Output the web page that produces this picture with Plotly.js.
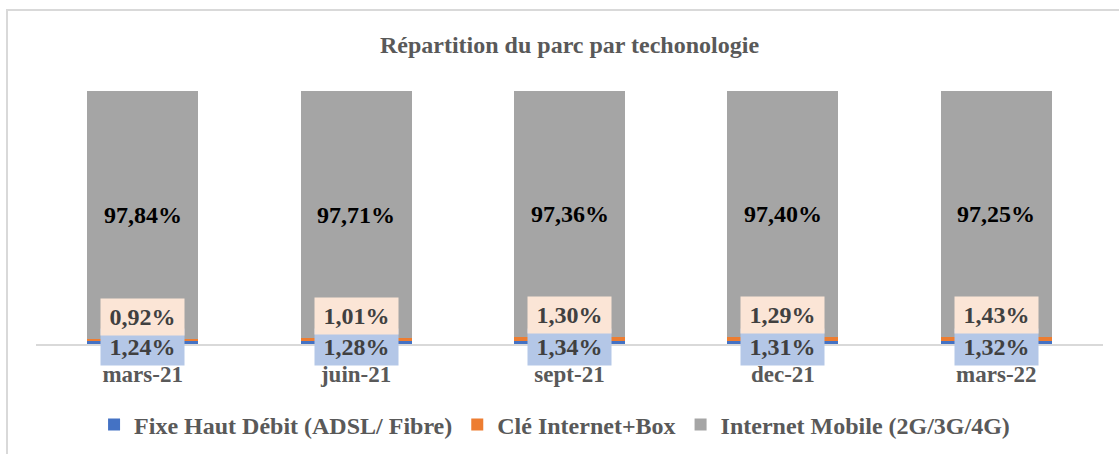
<!DOCTYPE html>
<html>
<head>
<meta charset="utf-8">
<script src="https://cdn.plot.ly/plotly-3.0.1.min.js"></script>
<style>
  html, body { margin: 0; padding: 0; width: 1119px; height: 454px; overflow: hidden; background: #fff; }
  #frame { position: absolute; left: 6px; top: 9px; width: 2000px; height: 2000px; border: 2px solid #d9d9d9; box-sizing: border-box; }
  #chart { position: absolute; left: 0; top: 0; width: 1119px; height: 454px; }
</style>
</head>
<body>
<div id="frame"></div>
<div id="chart"></div>
<script>
const categories = ["mars-21", "juin-21", "sept-21", "dec-21", "mars-22"];
const fixe = [1.24, 1.28, 1.34, 1.31, 1.32];
const cle = [0.92, 1.01, 1.30, 1.29, 1.43];
const mobile = [97.84, 97.71, 97.36, 97.40, 97.25];
const seriesNames = ["Fixe Haut Débit (ADSL/ Fibre)", "Clé Internet+Box", "Internet Mobile (2G/3G/4G)"];
const chartTitle = "Répartition du parc par techonologie";

const fmt = v => v.toFixed(2).replace(".", ",") + "%";
const FONT = "Liberation Serif, Times New Roman, serif";

const traces = [
  { type: "bar", name: "<b>" + seriesNames[0] + "</b>", x: categories, y: fixe, marker: { color: "#4472C4" }, hoverinfo: "skip" },
  { type: "bar", name: "<b>" + seriesNames[1] + "</b>", x: categories, y: cle, marker: { color: "#ED7D31" }, hoverinfo: "skip" },
  { type: "bar", name: "<b>" + seriesNames[2] + "</b>", x: categories, y: mobile, marker: { color: "#A5A5A5" }, hoverinfo: "skip" }
];

const annotations = [];
categories.forEach((c, i) => {
  annotations.push({
    x: c, y: fixe[i] + cle[i] + mobile[i] / 2, xref: "x", yref: "y",
    text: "<b>" + fmt(mobile[i]) + "</b>", showarrow: false,
    font: { family: FONT, size: 24, color: "#000000" }
  });
  annotations.push({
    x: c, y: fixe[i] / 2, xref: "x", yref: "y", yanchor: "middle", yshift: -5,
    text: "<b>" + fmt(fixe[i]) + "</b>", showarrow: false,
    bgcolor: "#B4C7E7", width: 77, height: 30, borderpad: 3,
    font: { family: FONT, size: 24, color: "#404040" }
  });
  annotations.push({
    x: c, y: fixe[i] + cle[i], xref: "x", yref: "y", yanchor: "bottom", yshift: 3,
    text: "<b>" + fmt(cle[i]) + "</b>", showarrow: false,
    bgcolor: "#FBE5D6", width: 77, height: 30, borderpad: 3,
    font: { family: FONT, size: 24, color: "#404040" }
  });
});

const layout = {
  width: 1119, height: 454,
  margin: { l: 36, r: 16, t: 91, b: 110, pad: 0, autoexpand: false },
  paper_bgcolor: "rgba(0,0,0,0)", plot_bgcolor: "rgba(0,0,0,0)",
  barmode: "stack", bargap: 0.48,
  showlegend: true,
  title: {
    text: "<b>" + chartTitle + "</b>", x: 0.5, xanchor: "center", xref: "paper",
    y: 1 - 45 / 454, yref: "container", yanchor: "middle",
    font: { family: FONT, size: 24, color: "#595959" }
  },
  xaxis: {
    type: "category", showline: true, linecolor: "#d9d9d9", linewidth: 2,
    showgrid: false, ticks: "", ticklabelstandoff: 8,
    tickfont: { family: FONT, size: 23, color: "#595959" },
    tickprefix: "<b>", ticksuffix: "</b>", fixedrange: true
  },
  yaxis: { range: [0, 100], visible: false, showgrid: false, zeroline: false, fixedrange: true },
  legend: {
    orientation: "h", x: 0.486, xanchor: "center", y: -0.32, yanchor: "middle",
    font: { family: FONT, size: 24, color: "#595959" }, traceorder: "normal"
  },
  annotations: annotations
};

Plotly.newPlot("chart", traces, layout, { displayModeBar: false, staticPlot: true });
</script>
</body>
</html>
